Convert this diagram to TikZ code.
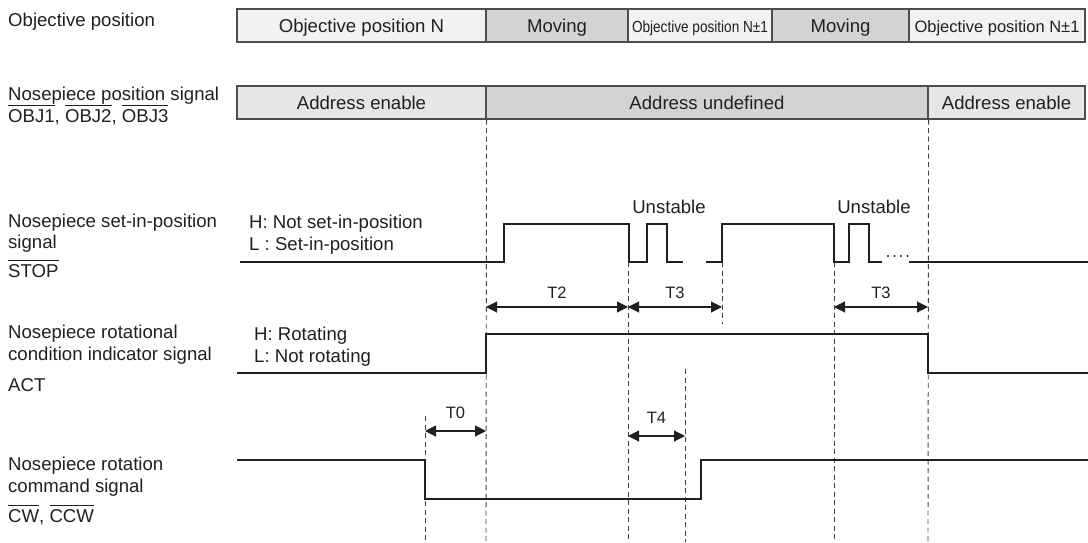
\documentclass[tikz,border=0pt]{standalone}
\usepackage{fontspec}
\setmainfont{Liberation Sans}
\usetikzlibrary{arrows.meta}
\definecolor{lite}{HTML}{F2F2F2}
\definecolor{mid}{HTML}{E6E6E6}
\definecolor{dark}{HTML}{D3D3D3}
\definecolor{ink}{HTML}{231F20}
\definecolor{edge}{HTML}{4D4D4D}
\newcommand\ovl[1]{\begingroup\setbox0\hbox{#1}\rlap{\raisebox{\dimexpr\ht0+3.6pt\relax}{\rule{\wd0}{0.9pt}}}\box0\endgroup}
\begin{document}
\begin{tikzpicture}[x=1pt,y=-1pt,
 sig/.style={line width=2.6pt,draw=ink,line join=miter},
 guide/.style={draw=ink!85,line width=0.9pt,dash pattern=on 5pt off 3.5pt},
 cell/.style={draw=edge,line width=1.1pt,minimum height=33pt,inner sep=0pt,text=ink,
   text height=13.2pt,text depth=0pt,font=\fontsize{18.6}{22}\selectfont},
 dim/.style={draw=ink,line width=1.1pt,{Triangle[length=11pt,width=11pt]}-{Triangle[length=11pt,width=11pt]}},
 lab/.style={anchor=base west,inner sep=0pt,text=ink,font=\fontsize{18.6}{22}\selectfont},
 ctr/.style={anchor=base,inner sep=0pt,text=ink,font=\fontsize{18.6}{22}\selectfont},
 tl/.style={anchor=base,inner sep=0pt,text=ink,font=\fontsize{16.5}{20}\selectfont}]
\path[use as bounding box] (0,0) rectangle (1088,542);

% row 1: objective position
\node[cell,fill=lite,minimum width=249pt] (o1) at (361.5,25.5) {Objective position N};
\node[cell,fill=dark,minimum width=142pt] (o2) at (557,25.5) {Moving};
\node[cell,fill=lite,minimum width=144pt] (o3) at (700,25.5) {\scalebox{0.85}[1]{\fontsize{16}{19}\selectfont Objective position N±1}};
\node[cell,fill=dark,minimum width=137pt] (o4) at (840.5,25.5) {Moving};
\node[cell,fill=lite,minimum width=176pt] (o5) at (997,25.5) {\fontsize{16.5}{19}\selectfont Objective position N±1};

% row 2: address
\node[cell,fill=mid,minimum width=249pt] (a1) at (361.5,102.5) {Address enable};
\node[cell,fill=dark,minimum width=442pt] (a2) at (707,102.5) {Address undefined};
\node[cell,fill=mid,minimum width=157pt] (a3) at (1006.5,102.5) {Address enable};

% left labels
\node[lab] (l1) at (8,26) {Objective position};
\node[lab] (l2) at (8,100) {Nosepiece position signal};
\node[lab] (l3) at (8,122) {\ovl{OBJ1}, \ovl{OBJ2}, \ovl{OBJ3}};
\node[lab] (l4) at (8,227) {Nosepiece set-in-position};
\node[lab] (l5) at (8,248) {signal};
\node[lab] (l6) at (8,277) {\ovl{STOP}};
\node[lab] (l7) at (8,338) {Nosepiece rotational};
\node[lab] (l8) at (8,360) {condition indicator signal};
\node[lab] (l9) at (8,391) {ACT};
\node[lab] (l10) at (8,470) {Nosepiece rotation};
\node[lab] (l11) at (8,492) {command signal};
\node[lab] (l12) at (8,522) {\ovl{CW}, \ovl{CCW}};

% level labels
\node[lab] (h1) at (249,228) {H: Not set-in-position};
\node[lab] (h2) at (249,250) {L : Set-in-position};
\node[lab] (h3) at (254,340) {H: Rotating};
\node[lab] (h4) at (254,362) {L: Not rotating};
\node[ctr] (u1) at (669,213) {Unstable};
\node[ctr] (u2) at (874,213) {Unstable};

% guide lines
\coordinate (g1t) at (425,416); \coordinate (g1b) at (425,542);
\coordinate (g2t) at (a1.south east); \coordinate (g2b) at (486,542);
\coordinate (g3t) at (628,262); \coordinate (g3b) at (628,542);
\coordinate (g4t) at (685,369); \coordinate (g4b) at (685,542);
\coordinate (g5t) at (722,262); \coordinate (g5b) at (722,324);
\coordinate (g6t) at (834,262); \coordinate (g6b) at (834,542);
\coordinate (g7t) at (a2.south east); \coordinate (g7b) at (928,542);
\foreach \g in {1,...,7} \draw[guide] (g\g t) -- (g\g b);

% signals
\draw[sig] (240,262) -- (504,262) -- (504,224) -- (629,224) -- (629,262) -- (647,262) -- (647,224) -- (667,224) -- (667,262) -- (683,262);
\draw[sig] (706,262) -- (722,262) -- (722,224) -- (834,224) -- (834,262) -- (849,262) -- (849,224) -- (869,224) -- (869,262) -- (882,262);
\draw[sig] (909,262) -- (1088,262);
\foreach \x [count=\i] in {888,894.5,901,907.5} \fill[ink] (\x,256) circle (1.1pt) coordinate (dot\i);
\draw[sig] (237,373) -- (486,373) -- (486,334) -- (928,334) -- (928,373) -- (1088,373);
\draw[sig] (237,460) -- (425,460) -- (425,499) -- (701,499) -- (701,460) -- (1088,460);

% timing dimensions
\coordinate (d2a) at (486,307); \coordinate (d2b) at (628,307);
\coordinate (d3a) at (628,307); \coordinate (d3b) at (722,307);
\coordinate (d5a) at (834,307); \coordinate (d5b) at (928,307);
\coordinate (d0a) at (425,431); \coordinate (d0b) at (486,431);
\coordinate (d4a) at (628,436); \coordinate (d4b) at (685,436);
\draw[dim] (d2a) -- (d2b);
\draw[dim] (d3a) -- (d3b);
\draw[dim] (d5a) -- (d5b);
\draw[dim] (d0a) -- (d0b);
\draw[dim] (d4a) -- (d4b);
\node[tl] (t2) at (557,298) {T2};
\node[tl] (t3) at (675,298) {T3};
\node[tl] (t3b) at (881,298) {T3};
\node[tl] (t0) at (455.5,418) {T0};
\node[tl] (t4) at (656.5,423) {T4};
\end{tikzpicture}
\end{document}
